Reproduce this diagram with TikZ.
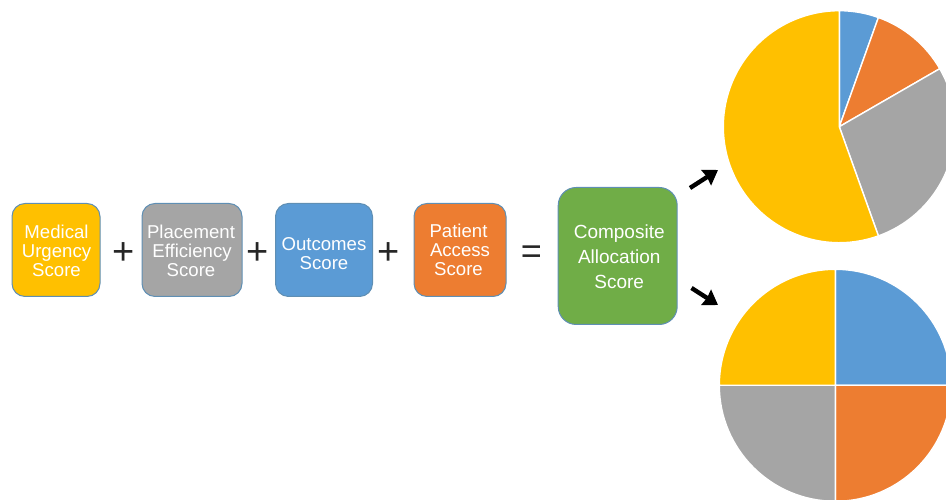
\documentclass[tikz,border=0pt]{standalone}
\usepackage{fontspec}
\setmainfont{Liberation Sans}
\usetikzlibrary{arrows.meta}
\definecolor{cyellow}{HTML}{FFC000}
\definecolor{cgray}{HTML}{A5A5A5}
\definecolor{cblue}{HTML}{5B9BD5}
\definecolor{corange}{HTML}{ED7D31}
\definecolor{cgreen}{HTML}{70AD47}
\definecolor{cedge}{HTML}{5F8FB4}
\tikzset{
  x=1pt,y=1pt,
  scorebox/.style={draw=cedge,line width=1pt,rounded corners=13pt,inner sep=0pt,text=white,align=center,
    font=\fontsize{18.6}{19}\selectfont},
  bigbox/.style={scorebox,rounded corners=18pt,font=\fontsize{19}{25}\selectfont},
  opsign/.style={inner sep=0pt,text=black!85,font=\fontsize{36}{36}\selectfont},
  plussign/.style={opsign,font=\fontsize{38}{38}\selectfont},
  wedge/.style={draw=white,line width=1.4pt,line join=round},
  bigarrow/.style={draw=black,line width=4.4pt,-{Stealth[inset=1pt,length=14pt,width=18pt]}},
}
\newcommand{\pieslice}[6]{\fill[#1] (#2,#3) -- ++(#5:#4) arc[start angle=#5,end angle=#6,radius=#4] -- cycle;
  \draw[wedge] (#2,#3) -- ++(#5:#4) arc[start angle=#5,end angle=#6,radius=#4] -- cycle;}
\newcommand{\lowerby}[1]{\rule{0pt}{#1}}
\begin{document}
\begin{tikzpicture}
\useasboundingbox (0,0) rectangle (946,500);
\clip (0,0) rectangle (946,500);
% score boxes
\node[scorebox,fill=cyellow,minimum width=88pt,minimum height=93pt] (med) at (56,250) {\lowerby{15.6pt}\hspace*{1pt}Medical\\\hspace*{1pt}Urgency\\\hspace*{1pt}Score};
\node[scorebox,fill=cgray,minimum width=100pt,minimum height=93pt] (pla) at (192,250) {\lowerby{15.6pt}Placement\hspace*{2pt}\\Efficiency\hspace*{2pt}\\Score\hspace*{2pt}};
\node[scorebox,fill=cblue,minimum width=97pt,minimum height=93pt] (out) at (324,250) {\lowerby{19.6pt}Outcomes\\Score};
\node[scorebox,fill=corange,minimum width=92pt,minimum height=93pt] (pat) at (460,250) {Patient\hspace*{3pt}\\Access\hspace*{3pt}\\Score\hspace*{3pt}};
\node[bigbox,fill=cgreen,minimum width=119pt,minimum height=137pt] (com) at (617.7,244) {\lowerby{15.8pt}\hspace*{3pt}Composite\\\hspace*{3pt}Allocation\\\hspace*{3pt}Score};
% operators
\node[plussign] (p1) at (123.5,246) {+};
\node[plussign] (p2) at (257.5,246) {+};
\node[plussign] (p3) at (389,246) {+};
\node[opsign] (eq) at (531.5,245) {=};
% arrows
\coordinate (a1s) at (690,312);
\coordinate (a1e) at (718,330);
\coordinate (a2s) at (691.5,212);
\coordinate (a2e) at (718,195);
\draw[bigarrow] (a1s) -- (a1e);
\draw[bigarrow] (a2s) -- (a2e);
% top pie
\pieslice{cblue}{839.3}{373.3}{116}{90}{70.3}
\pieslice{corange}{839.3}{373.3}{116}{70.3}{30}
\pieslice{cgray}{839.3}{373.3}{116}{30}{-70.3}
\pieslice{cyellow}{839.3}{373.3}{116}{-70.3}{-270}
% bottom pie
\pieslice{cblue}{835.3}{114.7}{116}{90}{0}
\pieslice{corange}{835.3}{114.7}{116}{0}{-90}
\pieslice{cgray}{835.3}{114.7}{116}{-90}{-180}
\pieslice{cyellow}{835.3}{114.7}{116}{-180}{-270}
\end{tikzpicture}
\end{document}
